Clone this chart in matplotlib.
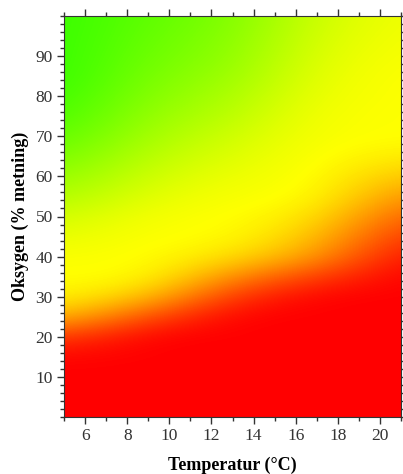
import numpy as np
import matplotlib
matplotlib.use('Agg')
import matplotlib.pyplot as plt
from matplotlib.colors import LinearSegmentedColormap

# temperature columns (°C) and oxygen rows (% metning) where the colour was read
temps = [5, 9, 13, 17, 21]
oxygen = [0, 5, 10, 15, 20, 25, 30, 35, 40, 45, 50, 55, 60, 65, 70, 75, 80, 85, 90, 95, 100]

# colour level: 0 = red, 0.5 = yellow, 1 = green
level_5C = [0, 0, 0, 0.01, 0.12, 0.36, 0.48, 0.5, 0.51, 0.56, 0.62, 0.7, 0.77, 0.84, 0.9, 0.95, 0.98, 1, 1, 1, 1]
level_9C = [0, 0, 0, 0, 0, 0.15, 0.38, 0.5, 0.5, 0.5, 0.52, 0.57, 0.62, 0.67, 0.72, 0.76, 0.8, 0.83, 0.86, 0.88, 0.9]
level_13C = [0, 0, 0, 0, 0, 0, 0.1, 0.27, 0.44, 0.5, 0.5, 0.51, 0.54, 0.58, 0.62, 0.67, 0.71, 0.75, 0.78, 0.8, 0.82]
level_17C = [0, 0, 0, 0, 0, 0, 0, 0.12, 0.3, 0.38, 0.45, 0.5, 0.5, 0.5, 0.51, 0.52, 0.54, 0.56, 0.58, 0.6, 0.62]
level_21C = [0, 0, 0, 0, 0, 0, 0, 0, 0.03, 0.1, 0.18, 0.28, 0.38, 0.46, 0.5, 0.5, 0.5, 0.5, 0.51, 0.52, 0.53]

grid = np.array([level_5C, level_9C, level_13C, level_17C, level_21C]).T

cmap = LinearSegmentedColormap.from_list('rgy', [(0, '#ff0000'), (0.5, '#ffff00'), (1, '#38ff00')])

fig = plt.figure(figsize=(4.03, 4.74), dpi=100)
ax = fig.add_axes([64/403, 1 - 417/474, (401-64)/403, (417-16)/474])

dT = temps[1] - temps[0]
dO = oxygen[1] - oxygen[0]
ax.imshow(grid, cmap=cmap, vmin=0, vmax=1, origin='lower', aspect='auto',
          interpolation='bicubic',
          extent=[temps[0] - dT/2, temps[-1] + dT/2, oxygen[0] - dO/2, oxygen[-1] + dO/2])

ax.set_xlim(5, 21)
ax.set_ylim(0, 100)
ax.set_xticks(np.arange(6, 21, 2))
ax.set_xticks(np.arange(5, 22, 1), minor=True)
ax.set_yticks(np.arange(10, 100, 10))
ax.set_yticks(np.arange(0, 101, 2), minor=True)

ax.tick_params(which='both', direction='out', top=True, right=True, color='#333333',
               labelsize=12.5, labelcolor='#333333')
ax.tick_params(which='major', length=5, width=1, pad=3)
ax.tick_params(which='minor', length=3, width=1)
for lab in ax.get_xticklabels() + ax.get_yticklabels():
    lab.set_family('Liberation Serif')
for s in ax.spines.values():
    s.set_color('#333333')

ax.set_xlabel('Temperatur (°C)', family='Liberation Serif', fontweight='bold', fontsize=13, labelpad=9)
ax.set_ylabel('Oksygen (% metning)', family='Liberation Serif', fontweight='bold', fontsize=13, labelpad=5)

fig.savefig('out.png', dpi=100)
